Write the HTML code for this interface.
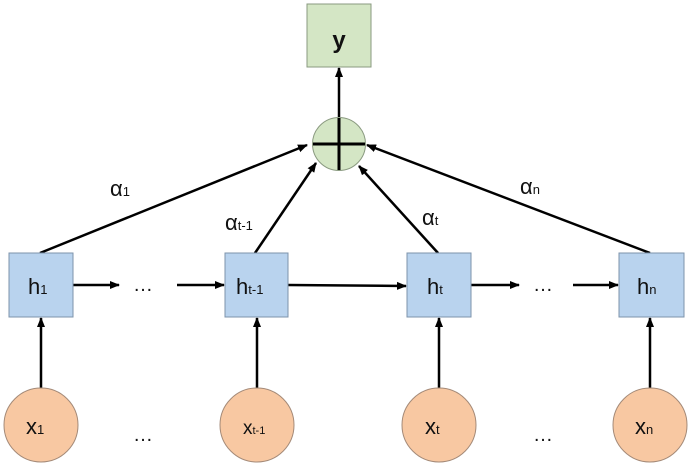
<!DOCTYPE html>
<html><head><meta charset="utf-8"><style>
html,body{margin:0;padding:0;background:#fff;}
svg{display:block;}
text{font-family:"Liberation Sans","DejaVu Sans",sans-serif;fill:#111;}
</style></head><body>
<svg width="691" height="467" viewBox="0 0 691 467" xmlns="http://www.w3.org/2000/svg">
<defs>
<marker id="a" markerWidth="10" markerHeight="10" refX="9" refY="5" orient="auto" markerUnits="userSpaceOnUse">
<path d="M0,1 L10,5 L0,9 z" fill="#000"/></marker>
</defs>
<g stroke="#000" stroke-width="2.5" fill="none" marker-end="url(#a)">
<line x1="339" y1="117" x2="339" y2="68"/>
<line x1="40" y1="253" x2="307" y2="145"/>
<line x1="255" y1="253" x2="316" y2="163"/>
<line x1="438" y1="253" x2="359" y2="166"/>
<line x1="650" y1="253" x2="367" y2="145"/>
<line x1="73" y1="285" x2="119" y2="285"/>
<line x1="177" y1="285" x2="224" y2="285"/>
<line x1="288" y1="285" x2="406" y2="286"/>
<line x1="471" y1="285" x2="519" y2="285"/>
<line x1="573" y1="285" x2="618" y2="285"/>
<line x1="41" y1="388" x2="41" y2="318"/>
<line x1="257" y1="388" x2="257" y2="318"/>
<line x1="439" y1="388" x2="439" y2="318"/>
<line x1="650" y1="388" x2="650" y2="318"/>
</g>
<rect x="307" y="4" width="64" height="63" fill="#d4e6c5" stroke="#8a9a80"/>
<text x="339" y="48" font-size="24" text-anchor="middle" font-weight="bold">y</text>
<circle cx="339" cy="144" r="26.5" fill="#d4e6c5" stroke="#8a9a80"/>
<g stroke="#000" stroke-width="3"><line x1="313" y1="144" x2="365" y2="144"/><line x1="339" y1="118" x2="339" y2="170"/></g>
<g fill="#b9d3ee" stroke="#7d93ab">
<rect x="9" y="253" width="64" height="64"/>
<rect x="225" y="253" width="63" height="64"/>
<rect x="407" y="253" width="64" height="64"/>
<rect x="619" y="253" width="65" height="64"/>
</g>
<g font-size="22">
<text x="28" y="294">h<tspan font-size="13">1</tspan></text>
<text x="236" y="294">h<tspan font-size="13">t-1</tspan></text>
<text x="427" y="294">h<tspan font-size="13">t</tspan></text>
<text x="637" y="294">h<tspan font-size="13">n</tspan></text>
</g>
<g fill="#f8c8a2" stroke="#a48a78">
<circle cx="41" cy="425" r="37"/>
<circle cx="257" cy="425" r="37"/>
<circle cx="439" cy="425" r="37"/>
<circle cx="650" cy="425" r="37"/>
</g>
<g font-size="22">
<text x="26" y="434">x<tspan font-size="13">1</tspan></text>
<text x="243" y="434" font-size="19">x<tspan font-size="11">t-1</tspan></text>
<text x="425" y="434">x<tspan font-size="13">t</tspan></text>
<text x="635" y="434">x<tspan font-size="13">n</tspan></text>
</g>
<g font-size="20">
<text x="133" y="291">…</text>
<text x="533" y="291">…</text>
<text x="133" y="441">…</text>
<text x="533" y="441">…</text>
</g>
<g font-size="22">
<text x="110" y="196">α<tspan font-size="13">1</tspan></text>
<text x="225" y="230">α<tspan font-size="13">t-1</tspan></text>
<text x="422" y="225">α<tspan font-size="13">t</tspan></text>
<text x="520" y="194">α<tspan font-size="13">n</tspan></text>
</g>
</svg>
</body></html>
